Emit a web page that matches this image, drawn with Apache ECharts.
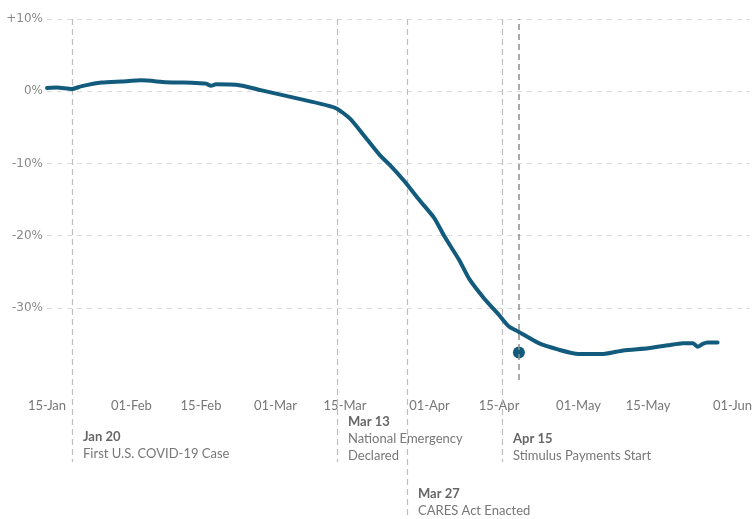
<!DOCTYPE html>
<html>
<head>
<meta charset="utf-8">
<script src="https://cdn.jsdelivr.net/npm/echarts@6/dist/echarts.min.js"></script>
<style>
html,body{margin:0;padding:0;background:#fff;}
#chart{width:755px;height:519px;}
</style>
</head>
<body>
<div id="chart"></div>
<script>
// ---- data ----
const lineDates = ['2020-01-15','2020-01-17','2020-01-20','2020-01-22','2020-01-26','2020-01-30','2020-02-03','2020-02-08','2020-02-14','2020-02-16','2020-02-17','2020-02-18','2020-02-23','2020-02-27','2020-03-06','2020-03-13','2020-03-16','2020-03-19','2020-03-22','2020-03-24','2020-03-27','2020-03-30','2020-04-02','2020-04-04','2020-04-07','2020-04-09','2020-04-12','2020-04-15','2020-04-17','2020-04-19','2020-04-23','2020-04-27','2020-05-01','2020-05-06','2020-05-10','2020-05-15','2020-05-19','2020-05-22','2020-05-24','2020-05-25','2020-05-26','2020-05-27','2020-05-29'];
const lineValues = [0.45,0.5,0.3,0.7,1.2,1.35,1.5,1.25,1.15,1.05,0.75,0.95,0.8,0.15,-1.1,-2.3,-3.8,-6.3,-8.85,-10.2,-12.5,-15.1,-17.6,-20.1,-23.4,-26.0,-28.7,-31.0,-32.6,-33.35,-34.9,-35.8,-36.4,-36.4,-35.9,-35.6,-35.2,-34.9,-34.9,-35.4,-35.0,-34.8,-34.8];

const markerDate = '2020-04-19';
const markerValue = -36.2;

const xTickDates = ['2020-01-15','2020-02-01','2020-02-15','2020-03-01','2020-03-15','2020-04-01','2020-04-15','2020-05-01','2020-05-15','2020-06-01'];
const xTickLabels = ['15-Jan','01-Feb','15-Feb','01-Mar','15-Mar','01-Apr','15-Apr','01-May','15-May','01-Jun'];

const yTickValues = [-40,-30,-20,-10,0,10];
const yTickLabels = ['','-30%','-20%','-10%','0%','+10%'];

const eventDates = ['2020-01-20','2020-03-13','2020-03-27','2020-04-15'];
const eventTitles = ['Jan 20','Mar 13','Mar 27','Apr 15'];
const eventTexts = [['First U.S. COVID-19 Case'],['National Emergency','Declared'],['CARES Act Enacted'],['Stimulus Payments Start']];

// ---- layout (pixels from top of canvas) ----
const eventLineEnd = [462, 462, 518, 462];
const eventTitleY = [437, 422, 494, 439];

const LINE_COLOR = '#125b7d';
const FONT = 'Lato';

function ts(s) { return Date.UTC(+s.slice(0,4), +s.slice(5,7) - 1, +s.slice(8,10)); }
const X_MIN = ts('2020-01-15');
const X_MAX = ts('2020-06-04') + 12 * 3600 * 1000;
const tickTs = xTickDates.map(ts);

const chart = echarts.init(document.getElementById('chart'), null, {renderer:'canvas'});

const option = {
  backgroundColor: '#fff',
  animation: false,
  grid: [
    {left: 47, right: 0, top: 19, bottom: 139, containLabel: false},
    {left: 47, right: 0, top: 0, bottom: 0, containLabel: false}
  ],
  xAxis: [
    {
      type: 'value', gridIndex: 0, min: X_MIN, max: X_MAX,
      axisLine: {show: false}, axisTick: {show: false}, splitLine: {show: false},
      axisLabel: {
        customValues: tickTs,
        showMinLabel: true, showMaxLabel: true,
        margin: 19, color: '#777', fontFamily: FONT, fontSize: 13,
        formatter: function (v) {
          const i = tickTs.indexOf(v);
          return i >= 0 ? xTickLabels[i] : '';
        }
      }
    },
    {
      type: 'value', gridIndex: 1, min: X_MIN, max: X_MAX, show: false
    }
  ],
  yAxis: [
    {
      type: 'value', gridIndex: 0, min: -40, max: 10, interval: 10,
      axisLine: {show: false}, axisTick: {show: false},
      axisLabel: {
        margin: 4, color: '#888', fontFamily: 'DejaVu Sans', fontSize: 12,
        formatter: function (v) {
          const i = yTickValues.indexOf(v);
          return i >= 0 ? yTickLabels[i] : '';
        }
      },
      splitLine: {
        show: true,
        lineStyle: {color: ['rgba(0,0,0,0)','#dcdcdc','#dcdcdc','#dcdcdc','#dcdcdc','#dcdcdc'], type: [5,5], width: 1}
      }
    },
    {
      type: 'value', gridIndex: 1, min: 0, max: 519, inverse: true, show: false
    }
  ],
  series: [
    {
      type: 'custom',
      xAxisIndex: 1, yAxisIndex: 1,
      clip: false,
      z: 1,
      silent: true,
      data: eventDates.map((d, i) => [ts(d), i]),
      renderItem: function (params, api) {
        const i = api.value(1);
        const top = api.coord([api.value(0), 19]);
        const bot = api.coord([api.value(0), eventLineEnd[i]]);
        const x = Math.round(top[0]) + 0.5;
        const children = [{
          type: 'line',
          shape: {x1: x, y1: top[1], x2: x, y2: bot[1]},
          style: {stroke: '#bdbdbd', lineWidth: 1.2, lineDash: [6,4]}
        }];
        const ty = api.coord([api.value(0), eventTitleY[i]])[1];
        children.push({
          type: 'text',
          style: {text: eventTitles[i], x: x + 10.5, y: ty, verticalAlign: 'middle', align: 'left',
                   font: 'bold 13px ' + FONT, fill: '#666'}
        });
        eventTexts[i].forEach(function (t, k) {
          children.push({
            type: 'text',
            style: {text: t, x: x + 10.5, y: ty + 17 * (k + 1), verticalAlign: 'middle', align: 'left',
                    font: '13px ' + FONT, fill: '#777'}
          });
        });
        return {type: 'group', children: children};
      }
    },
    {
      type: 'line',
      xAxisIndex: 0, yAxisIndex: 0,
      data: lineDates.map((d, i) => [ts(d), lineValues[i]]),
      showSymbol: false,
      smooth: 0.2,
      lineStyle: {color: LINE_COLOR, width: 4, cap: 'round', join: 'round'},
      itemStyle: {color: LINE_COLOR},
      z: 3,
      markLine: {
        silent: true,
        symbol: ['none','none'],
        label: {show: false},
        lineStyle: {color: '#8f8f8f', type: [6,4], width: 1.5},
        data: [{xAxis: ts(markerDate)}]
      }
    },
    {
      type: 'scatter',
      xAxisIndex: 0, yAxisIndex: 0,
      data: [[ts(markerDate), markerValue]],
      symbolSize: 12,
      itemStyle: {color: LINE_COLOR, opacity: 1},
      z: 4
    }
  ]
};
chart.setOption(option);
</script>
</body>
</html>
